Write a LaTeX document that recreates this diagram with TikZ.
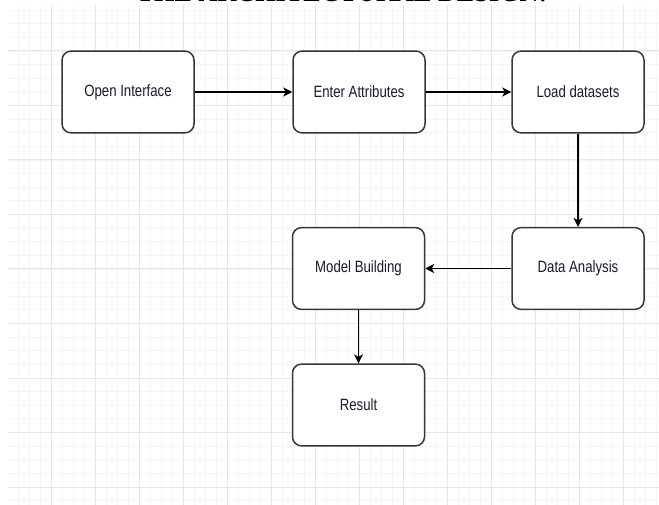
\documentclass[tikz,border=0pt]{standalone}
\usepackage{fontspec}
\setmainfont{Liberation Sans}
\newfontfamily\titlefont{Liberation Serif}
\usetikzlibrary{arrows.meta}
\definecolor{minorgrid}{HTML}{F5F5F5}
\definecolor{majorgrid}{HTML}{E6E6E6}
\definecolor{boxline}{HTML}{363636}
\definecolor{boxtext}{HTML}{1A1A2A}
\newcommand{\vtxt}[1]{\scalebox{1}[1.24]{#1}}
\tikzset{
  minorline/.style={draw=minorgrid, line width=0.8pt},
  majorline/.style={draw=majorgrid, line width=1pt},
  procbox/.style={draw=boxline, line width=1.5pt, fill=white, rounded corners=9pt,
    minimum width=132pt, minimum height=81.75pt, inner sep=0pt, text=boxtext,
    font=\fontsize{13.2}{15}\selectfont},
  flowarrow/.style={draw=black, line width=1.3pt,
    -{Stealth[length=9pt, width=9pt, inset=2.5pt]}}
}
\begin{document}
\begin{tikzpicture}[x=1pt, y=-1pt]
\useasboundingbox (0,0) rectangle (659,505);
\clip (0,0) rectangle (659,505);
% grid
\begin{scope}
\clip (8,5) rectangle (659,505);
\foreach \i in {1,...,60} {\draw[minorline] ({7.3+11*\i},5) -- ({7.3+11*\i},505);}
\foreach \i in {0,...,37} {\draw[minorline] (8,{10.125+13.625*\i}) -- (659,{10.125+13.625*\i});}
\foreach \i in {1,...,15} {\draw[majorline] ({7.3+44*\i},5) -- ({7.3+44*\i},505);}
\foreach \i in {0,...,8} {\draw[majorline] (8,{51+54.5*\i}) -- (659,{51+54.5*\i});}
\end{scope}
% title (cut off at the top, as in the reference)
\node[anchor=base, inner sep=0pt, font=\titlefont\bfseries\fontsize{26.2}{28}\selectfont] (title) at (342,1.5) {\scalebox{1}[1.24]{THE ARCHITECTURAL DESIGN:}};
% boxes
\node[procbox] (open) at (128,92) {\vtxt{Open Interface}};
\node[procbox] (enter) at (359,92) {\vtxt{Enter Attributes}};
\node[procbox] (load) at (578,92) {\vtxt{Load datasets}};
\node[procbox] (data) at (578,268.5) {\vtxt{Data Analysis}};
\node[procbox] (model) at (358.5,268.5) {\vtxt{Model Building}};
\node[procbox] (result) at (358.5,405) {\vtxt{Result}};
% connectors
\draw[flowarrow] (open.east) -- (enter.west);
\draw[flowarrow] (enter.east) -- (load.west);
\draw[flowarrow] (load.south) -- (data.north);
\draw[flowarrow] (data.west) -- (model.east);
\draw[flowarrow] (model.south) -- (result.north);
\end{tikzpicture}
\end{document}
